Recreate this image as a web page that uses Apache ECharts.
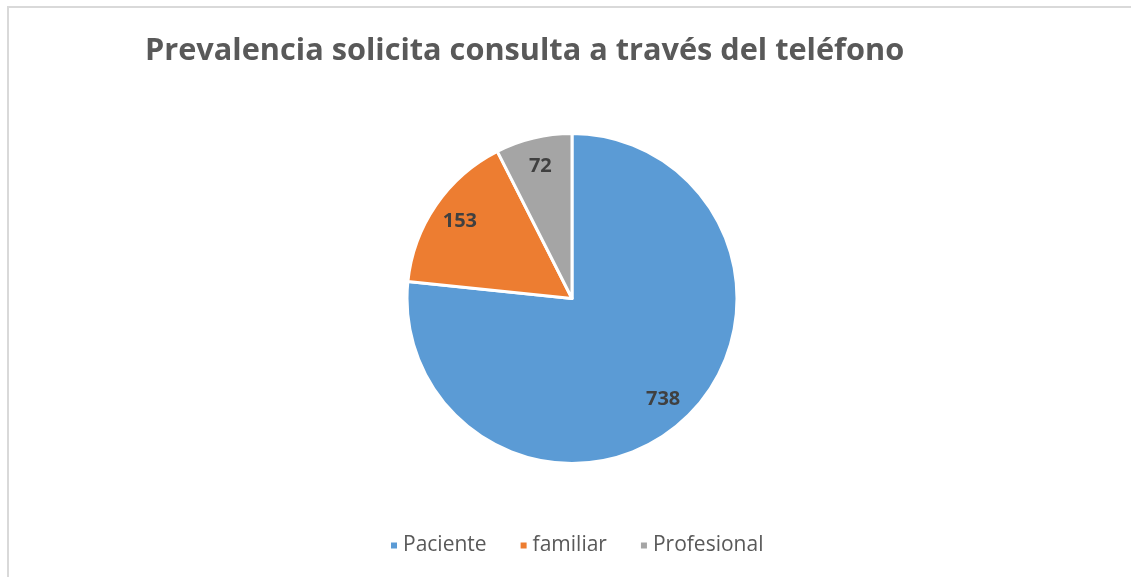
<!DOCTYPE html>
<html>
<head>
<meta charset="utf-8">
<script src="https://cdn.jsdelivr.net/npm/echarts@6/dist/echarts.min.js"></script>
<style>
    html, body { margin: 0; padding: 0; background: #fff; overflow: hidden; }
    #frame { position: absolute; left: 7px; top: 6px; width: 1200px; height: 640px;
             border: 2px solid #d9d9d9; box-sizing: border-box; }
    #pie { position: absolute; left: 0; top: 0; width: 1131px; height: 577px; }
</style>
</head>
<body>
<div id="frame"></div>
<div id="pie"></div>
<script>
    var categories = ['Paciente', 'familiar', 'Profesional']
    var values = [738, 153, 72]
    var colors = ['#5B9BD5', '#ED7D31', '#A5A5A5']

    var pieData = categories.map(function (name, i) {
        return { name: name, value: values[i], itemStyle: { color: colors[i] } }
    })

    var myChart = echarts.init(document.getElementById('pie'))

    var option = {
        animation: false,
        title: {
            text: 'Prevalencia solicita consulta a través del teléfono',
            left: 140,
            top: 31,
            textStyle: {
                fontFamily: 'Open Sans',
                fontWeight: 'bold',
                fontSize: 30.7,
                color: '#595959'
            }
        },
        legend: {
            data: categories,
            bottom: 16,
            left: 384,
            icon: 'rect',
            itemWidth: 8,
            itemHeight: 8,
            itemGap: 32,
            textStyle: {
                fontFamily: 'Open Sans',
                fontSize: 21,
                color: '#595959'
            }
        },
        series: [
            {
                // the pie itself
                type: 'pie',
                center: [572, 298.5],
                radius: [0, 165],
                startAngle: 90,
                clockwise: true,
                label: { show: false },
                labelLine: { show: false },
                itemStyle: { borderColor: '#fff', borderWidth: 3 },
                data: pieData
            },
            {
                // transparent ring only to place the value labels
                type: 'pie',
                silent: true,
                center: [572, 298.5],
                radius: [101, 165],
                startAngle: 90,
                clockwise: true,
                itemStyle: { color: 'rgba(0,0,0,0)' },
                label: {
                    show: true,
                    position: 'inside',
                    formatter: '{c}',
                    fontFamily: 'Open Sans',
                    fontWeight: 'bold',
                    fontSize: 20,
                    color: '#404040'
                },
                data: categories.map(function (name, i) {
                    return { name: name, value: values[i] }
                })
            }
        ]
    }
    myChart.setOption(option)
</script>
</body>
</html>
